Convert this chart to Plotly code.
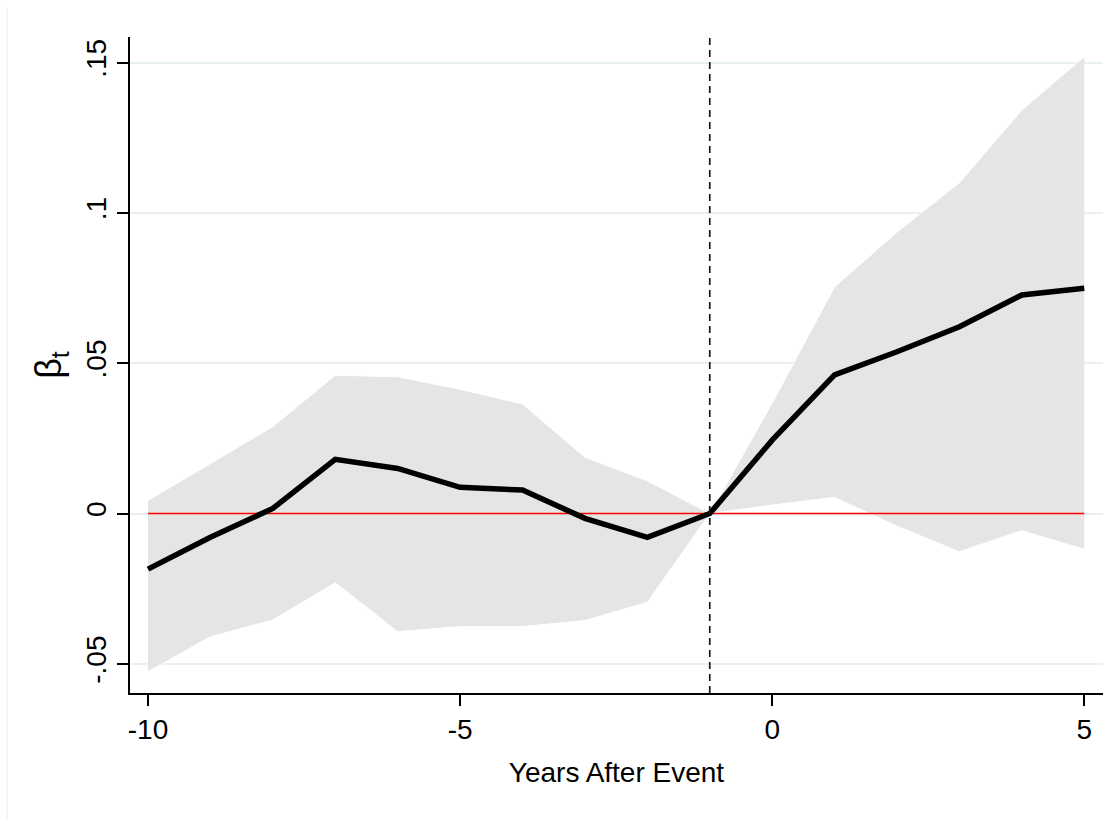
import plotly.graph_objects as go

years = list(range(-10, 6))
beta = [-0.0185, -0.0079, 0.0017, 0.0180, 0.0150, 0.0087, 0.0078, -0.0016,
        -0.0079, 0.0, 0.0244, 0.0461, 0.0538, 0.0621, 0.0727, 0.0749]
upper = [0.0043, 0.0167, 0.0289, 0.0460, 0.0455, 0.0413, 0.0364, 0.0187,
         0.0109, 0.0, 0.0367, 0.0754, 0.0936, 0.1100, 0.1342, 0.1519]
lower = [-0.0526, -0.0410, -0.0354, -0.0230, -0.0393, -0.0376, -0.0376, -0.0356,
         -0.0295, 0.0, 0.0028, 0.0054, -0.0042, -0.0127, -0.0057, -0.0119]
zero_ref = [0.0] * len(years)
event_year = -1

y_ticks = [-0.05, 0, 0.05, 0.1, 0.15]
y_ticktext = ["-.05", "0", ".05", ".1", ".15"]
x_ticks = [-10, -5, 0, 5]
x_ticktext = ["-10", "-5", "0", "5"]

FONT = "Liberation Sans, Arial, sans-serif"

fig = go.Figure()
fig.add_trace(go.Scatter(x=years, y=upper, mode="lines",
                         line=dict(color="white", width=1), showlegend=False))
fig.add_trace(go.Scatter(x=years, y=lower, mode="lines", fill="tonexty",
                         fillcolor="#e5e5e5",
                         line=dict(color="white", width=1), showlegend=False))
fig.add_trace(go.Scatter(x=years, y=zero_ref, mode="lines",
                         line=dict(color="#ff0000", width=1.7), showlegend=False))
fig.add_trace(go.Scatter(x=years, y=beta, mode="lines",
                         line=dict(color="black", width=5.5), showlegend=False))

fig.add_shape(type="line", xref="x", yref="paper", x0=event_year, x1=event_year,
              y0=0, y1=1, layer="above",
              line=dict(color="#1a1a1a", width=1.7, dash="7px,5px"))

# faint outer graph-region edge
fig.add_shape(type="line", xref="paper", yref="paper",
              x0=(7 - 130) / 973, x1=(7 - 130) / 973,
              y0=(693 - 821) / 656, y1=(693 - 7) / 656,
              line=dict(color="#ececec", width=1))

fig.update_layout(
    width=1119, height=821, autosize=False,
    margin=dict(l=130, r=16, t=37, b=128, pad=0),
    paper_bgcolor="white", plot_bgcolor="white",
    font=dict(family=FONT, size=28, color="black"),
    showlegend=False,
)
fig.update_xaxes(
    range=[-10.288, 5.30], tickvals=x_ticks, ticktext=x_ticktext,
    showgrid=False, zeroline=False,
    showline=True, linecolor="black", linewidth=1.5,
    ticks="outside", ticklen=11, tickwidth=1.5, tickcolor="black",
    tickfont=dict(size=28, family=FONT),
    title=dict(text="Years After Event", font=dict(size=28, family=FONT), standoff=18),
)
fig.update_yaxes(
    range=[-0.0597, 0.1585], tickvals=y_ticks, ticktext=y_ticktext,
    showgrid=True, gridcolor="#e8f0f2", gridwidth=1.5, zeroline=False,
    showline=True, linecolor="black", linewidth=1.5,
    ticks="outside", ticklen=11, tickwidth=1.5, tickcolor="black",
    tickangle=-90, tickfont=dict(size=28, family=FONT),
    title=dict(text="β<sub>t</sub>", font=dict(size=36, family=FONT), standoff=8),
)

fig.write_html("out.html")
